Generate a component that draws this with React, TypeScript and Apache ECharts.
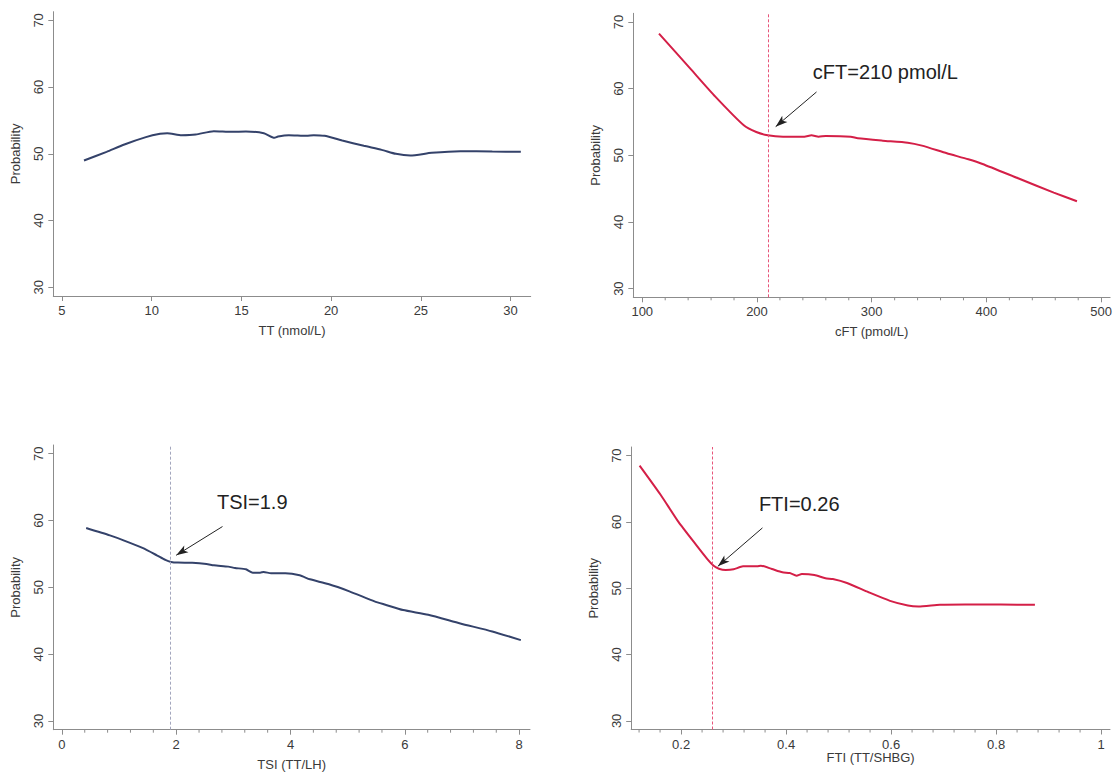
import React, { useEffect, useRef } from "react";
import * as echarts from "echarts";

// ---- data ----
const TT_X = [6.23, 7.49, 8.48, 9.68, 10.47, 10.87, 11.67, 12.46, 13.46, 14.45, 15.25, 16.25, 16.84, 17.04, 17.64, 18.63, 19.03, 19.63, 20.62, 21.82, 22.82, 23.61, 24.41, 25.6, 27.2, 28.98, 30.57];
const TT_Y = [49.0, 50.3, 51.4, 52.5, 53.0, 53.1, 52.8, 52.9, 53.4, 53.3, 53.35, 53.1, 52.4, 52.6, 52.8, 52.7, 52.8, 52.7, 52.0, 51.2, 50.6, 50.0, 49.75, 50.15, 50.4, 50.35, 50.3];

const CFT_X = [114.6, 141.9, 163.7, 188.5, 199.4, 209.3, 222.7, 241.3, 247.5, 253.7, 260, 281.7, 287.9, 309.6, 331.4, 343.8, 365.5, 384.2, 396.6, 427.6, 458.7, 478.9];
const CFT_Y = [68.25, 63.0, 58.8, 54.5, 53.5, 53.0, 52.8, 52.8, 53.0, 52.8, 52.9, 52.8, 52.55, 52.2, 51.9, 51.45, 50.3, 49.4, 48.7, 46.55, 44.4, 43.1];

const TSI_X = [0.425, 0.84, 1.09, 1.41, 1.66, 1.81, 1.91, 2.03, 2.28, 2.53, 2.66, 2.91, 3.03, 3.22, 3.34, 3.47, 3.53, 3.66, 3.91, 4.16, 4.34, 4.66, 5.03, 5.47, 5.66, 5.97, 6.41, 6.97, 7.53, 8.03];
const TSI_Y = [58.87, 57.77, 57.0, 55.9, 54.8, 54.1, 53.8, 53.7, 53.67, 53.5, 53.3, 53.1, 52.9, 52.7, 52.2, 52.2, 52.3, 52.1, 52.1, 51.8, 51.2, 50.5, 49.4, 47.9, 47.4, 46.6, 45.9, 44.6, 43.4, 42.1];

const FTI_X = [0.121, 0.161, 0.195, 0.229, 0.25, 0.262, 0.272, 0.285, 0.3, 0.318, 0.345, 0.352, 0.373, 0.393, 0.407, 0.42, 0.43, 0.454, 0.475, 0.489, 0.516, 0.557, 0.598, 0.632, 0.652, 0.693, 0.741, 0.809, 0.874];
const FTI_Y = [68.5, 64.1, 60.0, 56.5, 54.4, 53.4, 52.95, 52.75, 52.85, 53.3, 53.3, 53.4, 52.9, 52.4, 52.3, 51.9, 52.15, 52.0, 51.5, 51.4, 50.8, 49.4, 48.1, 47.4, 47.25, 47.5, 47.55, 47.55, 47.5];

const Y_MIN = 28.7;
const Y_MAX = 71.3;
const Y_TICKS = [30, 40, 50, 60, 70];
const TT_TICKS = [5, 10, 15, 20, 25, 30];
const CFT_TICKS = [100, 200, 300, 400, 500];
const CFT_MINOR = [120, 140, 160, 180, 220, 240, 260, 280, 320, 340, 360, 380, 420, 440, 460, 480];
const TSI_TICKS = [0, 2, 4, 6, 8];
const TSI_MINOR = [0.4, 0.8, 1.2, 1.6, 2.4, 2.8, 3.2, 3.6, 4.4, 4.8, 5.2, 5.6, 6.4, 6.8, 7.2, 7.6];
const FTI_TICKS = [0.2, 0.4, 0.6, 0.8, 1];
const FTI_MINOR = [0.12, 0.16, 0.24, 0.28, 0.32, 0.36, 0.44, 0.48, 0.52, 0.56, 0.64, 0.68, 0.72, 0.76, 0.84, 0.88, 0.92, 0.96];

const CFT_CUT = 210;
const TSI_CUT = 1.9;
const FTI_CUT = 0.26;

const NAVY = "#34426a";
const RED = "#d41f47";
const AXIS = "#8c8c8c";
const TXT = "#3a3a3a";
const FONT = "'Liberation Sans', Arial, Helvetica, sans-serif";

const zip = (xs: number[], ys: number[]) => xs.map((x, i) => [x, ys[i]]);

export default function App() {
  const ref = useRef<HTMLDivElement>(null);
  useEffect(() => {
    if (!ref.current) return;
    const chart = echarts.init(ref.current, undefined, { renderer: "svg" });

    const grids = [
      { left: 53.3, top: 11.7, width: 477.4, height: 284.3 },
      { left: 633.3, top: 13.3, width: 477.4, height: 284 },
      { left: 53.3, top: 445, width: 476.7, height: 284.7 },
      { left: 631.2, top: 447, width: 478.8, height: 282.5 },
    ];

    const majorX = (gi: number, min: number, max: number, ticks: number[], name: string, nameGap: number, fmt?: (v: number) => string) => ({
      type: "value",
      gridIndex: gi,
      position: "bottom",
      min,
      max,
      name,
      nameLocation: "middle",
      nameGap,
      nameTextStyle: { fontSize: 13, color: TXT, fontFamily: FONT },
      axisLine: { show: true, onZero: false, lineStyle: { color: AXIS, width: 1 } },
      axisTick: { show: true, customValues: ticks, length: 5, lineStyle: { color: AXIS, width: 1 } },
      axisLabel: {
        show: true,
        customValues: ticks,
        margin: 8,
        fontSize: 13,
        color: TXT,
        fontFamily: FONT,
        formatter: fmt || ((v: number) => String(v)),
      },
      splitLine: { show: false },
    });
    const yAx = (gi: number) => ({
      type: "value",
      gridIndex: gi,
      min: Y_MIN,
      max: Y_MAX,
      name: "Probability",
      nameLocation: "middle",
      nameGap: 31,
      nameTextStyle: { fontSize: 13, color: TXT, fontFamily: FONT },
      axisLine: { show: true, onZero: false, lineStyle: { color: AXIS, width: 1 } },
      axisTick: { show: true, customValues: Y_TICKS, length: 5, lineStyle: { color: AXIS } },
      axisLabel: { show: true, customValues: Y_TICKS, rotate: 90, margin: 8, fontSize: 13, color: TXT, fontFamily: FONT },
      splitLine: { show: false },
    });

    // minor ticks: short marks below the axis line, positioned through the axis scale
    const minorTicks = (axisIndex: number, values: number[]) => ({
      type: "custom",
      xAxisIndex: axisIndex,
      yAxisIndex: axisIndex,
      clip: false,
      silent: true,
      z: 10,
      data: values.map((v) => [v, Y_MIN]),
      renderItem: (_params: any, api: any) => {
        const p = api.coord([api.value(0), api.value(1)]);
        return {
          type: "line",
          shape: { x1: p[0], y1: p[1], x2: p[0], y2: p[1] + 3 },
          style: { stroke: AXIS, lineWidth: 1 },
        };
      },
    });

    const cutLine = (x: number, color: string) => ({ xAxis: x, lineStyle: { color, type: [3, 2], width: 1 } });
    const arrow = (x1: number, y1: number, x2: number, y2: number) => [
      { coord: [x1, y1], symbol: "none", lineStyle: { color: "#222", width: 1, type: "solid" } },
      { coord: [x2, y2], symbol: "arrow", symbolSize: [6, 12] },
    ];
    const note = (x: number, y: number, text: string) => ({
      coord: [x, y],
      symbol: "rect",
      symbolSize: 1,
      itemStyle: { color: "transparent" },
      label: { show: true, position: "inside", formatter: text, fontSize: 20, color: "#222", fontFamily: FONT },
    });

    const lineSeries = (xi: number, yi: number, data: number[][], color: string, extra: any = {}) => ({
      type: "line",
      xAxisIndex: xi,
      yAxisIndex: yi,
      data,
      showSymbol: false,
      smooth: 0.2,
      lineStyle: { color, width: 2 },
      itemStyle: { color },
      silent: true,
      ...extra,
    });

    const option: any = {
      animation: false,
      backgroundColor: "#ffffff",
      textStyle: { fontFamily: FONT },
      grid: grids,
      xAxis: [
        majorX(0, 4.52, 31.12, TT_TICKS, "TT (nmol/L)", 28),
        majorX(1, 92.2, 507.8, CFT_TICKS, "cFT (pmol/L)", 28),
        majorX(2, -0.15, 8.19, TSI_TICKS, "TSI (TT/LH)", 28),
        majorX(3, 0.105, 1.017, FTI_TICKS, "FTI (TT/SHBG)", 21, (v: number) => (v === 1 ? "1" : String(v))),
      ],
      yAxis: [yAx(0), yAx(1), yAx(2), yAx(3)],
      series: [
        lineSeries(0, 0, zip(TT_X, TT_Y), NAVY),
        lineSeries(1, 1, zip(CFT_X, CFT_Y), RED, {
          markLine: {
            silent: true,
            symbol: "none",
            label: { show: false },
            data: [cutLine(CFT_CUT, "#e8557a"), arrow(251.9, 59.5, 216.3, 54.3)],
          },
          markPoint: { silent: true, data: [note(311.9, 62.5, "cFT=210 pmol/L")] },
        }),
        lineSeries(2, 2, zip(TSI_X, TSI_Y), NAVY, {
          markLine: {
            silent: true,
            symbol: "none",
            label: { show: false },
            data: [cutLine(TSI_CUT, "#a3a6bd"), arrow(2.81, 59.1, 2.0, 54.8)],
          },
          markPoint: { silent: true, data: [note(3.33, 62.7, "TSI=1.9")] },
        }),
        lineSeries(3, 3, zip(FTI_X, FTI_Y), RED, {
          markLine: {
            silent: true,
            symbol: "none",
            label: { show: false },
            data: [cutLine(FTI_CUT, "#e8557a"), arrow(0.355, 59.1, 0.27, 53.3)],
          },
          markPoint: { silent: true, data: [note(0.425, 62.7, "FTI=0.26")] },
        }),
        minorTicks(1, CFT_MINOR),
        minorTicks(2, TSI_MINOR),
        minorTicks(3, FTI_MINOR),
      ],
    };
    chart.setOption(option);
    return () => chart.dispose();
  }, []);

  return (
    <div
      ref={ref}
      style={{ position: "fixed", left: 0, top: 0, width: 1115, height: 773, background: "#fff" }}
    />
  );
}
